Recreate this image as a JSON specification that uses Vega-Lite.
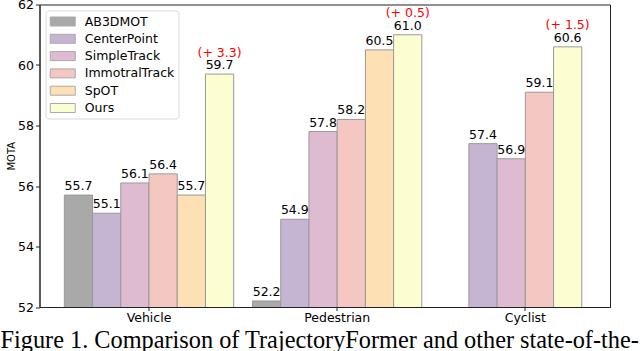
{
  "$schema": "https://vega.github.io/schema/vega-lite/v6.json",
  "width": 570.5,
  "height": 302.5,
  "autosize": {"type": "none"},
  "padding": {"left": 39.5, "top": 4.5, "right": 30, "bottom": 44},
  "background": "white",
  "config": {
    "view": {"stroke": "#222", "strokeWidth": 1},
    "font": "DejaVu Sans"
  },
  "title": {
    "text": "Figure 1. Comparison of TrajectoryFormer and other state-of-the-",
    "orient": "bottom",
    "anchor": "start",
    "frame": "group",
    "font": "Liberation Serif",
    "fontSize": 24.3,
    "fontWeight": "normal",
    "color": "black",
    "baseline": "top",
    "dx": -39,
    "offset": 5
  },
  "data": {
    "values": [
      {"category": "Vehicle", "method": "AB3DMOT", "mota": 55.7},
      {"category": "Vehicle", "method": "CenterPoint", "mota": 55.1},
      {"category": "Vehicle", "method": "SimpleTrack", "mota": 56.1},
      {"category": "Vehicle", "method": "ImmotralTrack", "mota": 56.4},
      {"category": "Vehicle", "method": "SpOT", "mota": 55.7},
      {"category": "Vehicle", "method": "Ours", "mota": 59.7, "gain": "(+ 3.3)"},
      {"category": "Pedestrian", "method": "AB3DMOT", "mota": 52.2},
      {"category": "Pedestrian", "method": "CenterPoint", "mota": 54.9},
      {"category": "Pedestrian", "method": "SimpleTrack", "mota": 57.8},
      {"category": "Pedestrian", "method": "ImmotralTrack", "mota": 58.2},
      {"category": "Pedestrian", "method": "SpOT", "mota": 60.5},
      {"category": "Pedestrian", "method": "Ours", "mota": 61.0, "gain": "(+ 0.5)"},
      {"category": "Cyclist", "method": "CenterPoint", "mota": 57.4},
      {"category": "Cyclist", "method": "SimpleTrack", "mota": 56.9},
      {"category": "Cyclist", "method": "ImmotralTrack", "mota": 59.1},
      {"category": "Cyclist", "method": "Ours", "mota": 60.6, "gain": "(+ 1.5)"}
    ]
  },
  "encoding": {
    "x": {
      "field": "category",
      "type": "nominal",
      "sort": ["Vehicle", "Pedestrian", "Cyclist"],
      "scale": {"paddingInner": 0.1, "paddingOuter": 0.066, "align": 1},
      "axis": {
        "title": null,
        "labelAngle": 0,
        "labelFontSize": 12.5,
        "labelColor": "black",
        "labelPadding": 1,
        "tickSize": 3.5,
        "tickColor": "#222",
        "domainColor": "#222",
        "labelFont": "DejaVu Sans"
      }
    },
    "y": {
      "field": "mota",
      "type": "quantitative",
      "scale": {"domain": [52, 62], "zero": false, "nice": false},
      "axis": {
        "title": "MOTA",
        "titleFontSize": 10,
        "titleFontWeight": "normal",
        "titleColor": "black",
        "titlePadding": 1,
        "titleFont": "DejaVu Sans",
        "values": [52, 54, 56, 58, 60, 62],
        "grid": false,
        "labelFontSize": 12.5,
        "labelColor": "black",
        "labelPadding": 2,
        "labelFont": "DejaVu Sans",
        "tickSize": 4,
        "tickColor": "#222",
        "domainColor": "#222"
      }
    },
    "color": {
      "field": "method",
      "type": "nominal",
      "scale": {
        "domain": ["AB3DMOT", "CenterPoint", "SimpleTrack", "ImmotralTrack", "SpOT", "Ours"],
        "range": ["#a9a9a9", "#c5b5d3", "#dfbbd1", "#f5c7c3", "#fde0b3", "#fdfdd2"]
      },
      "legend": {
        "title": null,
        "orient": "top-left",
        "offset": 6,
        "fillColor": "white",
        "strokeColor": "#d8d8d8",
        "cornerRadius": 3,
        "padding": 4,
        "symbolType": "M-2,-0.72H2V0.72H-2Z",
        "symbolSize": 156.25,
        "symbolOffset": 6.25,
        "symbolStrokeColor": "#aaaaaa",
        "symbolStrokeWidth": 1,
        "symbolOpacity": 1,
        "labelFontSize": 12.5,
        "labelFont": "DejaVu Sans",
        "labelColor": "black",
        "labelOffset": 15,
        "rowPadding": 3.3
      }
    }
  },
  "layer": [
    {
      "transform": [{"filter": "datum.category != 'Cyclist'"}],
      "encoding": {
        "xOffset": {
          "field": "method",
          "type": "nominal",
          "sort": ["AB3DMOT", "CenterPoint", "SimpleTrack", "ImmotralTrack", "SpOT", "Ours"],
          "scale": {"paddingInner": 0, "paddingOuter": 0}
        }
      },
      "layer": [
        {"mark": {"type": "bar", "clip": true, "stroke": "#999999", "strokeWidth": 1, "opacity": 1}},
        {
          "mark": {"type": "text", "baseline": "bottom", "dy": -2, "fontSize": 12.5, "font": "DejaVu Sans", "color": "black"},
          "encoding": {"text": {"field": "mota", "type": "quantitative", "format": ".1f"}, "color": {"value": "black"}}
        },
        {
          "transform": [{"filter": "isValid(datum.gain)"}],
          "mark": {"type": "text", "baseline": "bottom", "dy": -14.5, "fontSize": 12.5, "font": "DejaVu Sans", "color": "red"},
          "encoding": {"text": {"field": "gain", "type": "nominal"}, "color": {"value": "#ff0000"}}
        }
      ]
    },
    {
      "transform": [{"filter": "datum.category == 'Cyclist'"}],
      "encoding": {
        "xOffset": {
          "field": "method",
          "type": "nominal",
          "sort": ["CenterPoint", "SimpleTrack", "ImmotralTrack", "Ours"],
          "scale": {"paddingInner": 0, "paddingOuter": 1}
        }
      },
      "layer": [
        {"mark": {"type": "bar", "clip": true, "stroke": "#999999", "strokeWidth": 1, "opacity": 1}},
        {
          "mark": {"type": "text", "baseline": "bottom", "dy": -2, "fontSize": 12.5, "font": "DejaVu Sans", "color": "black"},
          "encoding": {"text": {"field": "mota", "type": "quantitative", "format": ".1f"}, "color": {"value": "black"}}
        },
        {
          "transform": [{"filter": "isValid(datum.gain)"}],
          "mark": {"type": "text", "baseline": "bottom", "dy": -14.5, "fontSize": 12.5, "font": "DejaVu Sans", "color": "red"},
          "encoding": {"text": {"field": "gain", "type": "nominal"}, "color": {"value": "#ff0000"}}
        }
      ]
    }
  ],
  "resolve": {"scale": {"xOffset": "independent"}}
}
